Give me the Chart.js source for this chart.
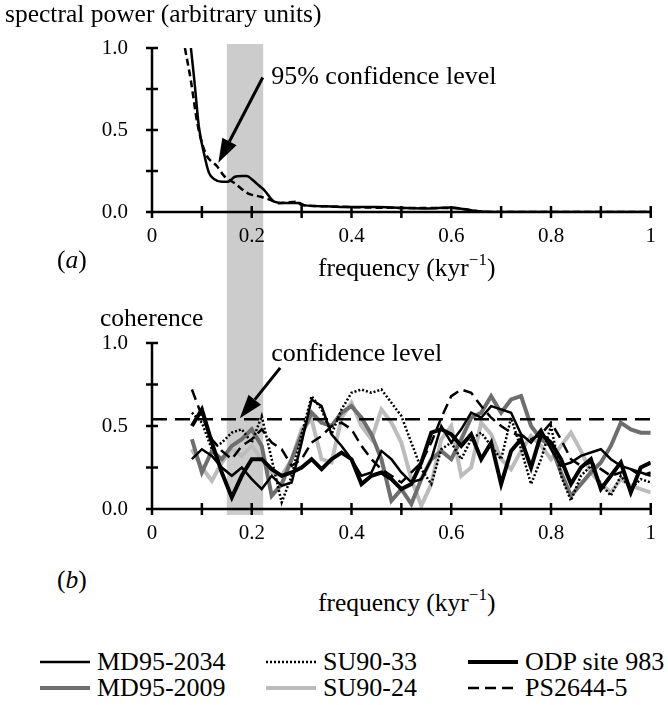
<!DOCTYPE html>
<html>
<head>
<meta charset="utf-8">
<script src="https://cdn.jsdelivr.net/npm/chart.js@4.4.1/dist/chart.umd.min.js"></script>
<style>
  body { margin: 0; background: #fff; }
  #wrap { position: relative; width: 668px; height: 705px; overflow: hidden;
          font-family: 'Liberation Serif', 'DejaVu Serif', serif; color: #000; }
  canvas { position: absolute; left: 0; }
  .lbl { position: absolute; font-size: 25.5px; line-height: 26px; white-space: nowrap; }
  .lbl sup { font-size: 17px; line-height: 0; position: relative; top: -2px; }
  .leg { position: absolute; height: 26px; display: flex; align-items: center;
         font-size: 26px; white-space: nowrap; }
  .leg svg { margin-right: 7px; }
</style>
</head>
<body>
<div id="wrap">
  <canvas id="powerChart" width="668" height="300" style="top:0"></canvas>
  <canvas id="cohChart" width="668" height="260" style="top:300px"></canvas>

  <div class="lbl" style="left:5px; top:1px">spectral power (arbitrary units)</div>
  <div class="lbl" style="left:57px; top:247px">(<i>a</i>)</div>
  <div class="lbl" style="left:318px; top:255px">frequency (kyr<sup>&minus;1</sup>)</div>
  <div class="lbl" style="left:100px; top:305px">coherence</div>
  <div class="lbl" style="left:57px; top:567px">(<i>b</i>)</div>
  <div class="lbl" style="left:318px; top:590px">frequency (kyr<sup>&minus;1</sup>)</div>
  <div id="legend"></div>
</div>
<script>
// ---- panel (a): spectral power ----
const powerSolidX = [0.078, 0.085, 0.094, 0.104, 0.114, 0.125, 0.14, 0.153, 0.166, 0.18, 0.19, 0.202, 0.215, 0.225, 0.245, 0.264, 0.295, 0.305, 0.35, 0.40, 0.45, 0.50, 0.55, 0.60, 0.63, 0.66, 0.70, 1.0];
const powerSolidY = [1.0, 0.80, 0.52, 0.36, 0.24, 0.20, 0.185, 0.185, 0.215, 0.22, 0.22, 0.195, 0.16, 0.134, 0.063, 0.055, 0.055, 0.042, 0.035, 0.03, 0.03, 0.025, 0.022, 0.028, 0.015, 0.003, 0, 0];
const powerDashX = [0.066, 0.078, 0.091, 0.107, 0.13, 0.146, 0.166, 0.192, 0.218, 0.238, 0.257, 0.275, 0.29, 0.30, 0.35, 0.40, 0.50, 0.60, 0.66, 0.70, 1.0];
const powerDashY = [1.0, 0.80, 0.54, 0.36, 0.28, 0.215, 0.175, 0.114, 0.093, 0.073, 0.053, 0.06, 0.063, 0.043, 0.035, 0.03, 0.025, 0.025, 0.003, 0, 0];

// ---- panel (b): coherence, common frequency grid ----
const freq = [0.08, 0.10, 0.12, 0.14, 0.16, 0.18, 0.20, 0.22, 0.24, 0.26, 0.28, 0.30, 0.32, 0.34, 0.36, 0.38, 0.40, 0.42, 0.44, 0.46, 0.48, 0.50, 0.52, 0.54, 0.56, 0.58, 0.60, 0.62, 0.64, 0.66, 0.68, 0.70, 0.72, 0.74, 0.76, 0.78, 0.80, 0.82, 0.84, 0.86, 0.88, 0.90, 0.92, 0.94, 0.96, 0.98, 1.00];
const md952034 = [0.30, 0.36, 0.32, 0.25, 0.20, 0.25, 0.18, 0.12, 0.20, 0.14, 0.16, 0.40, 0.66, 0.62, 0.45, 0.38, 0.30, 0.20, 0.22, 0.35, 0.30, 0.22, 0.16, 0.18, 0.30, 0.50, 0.40, 0.48, 0.58, 0.55, 0.62, 0.60, 0.58, 0.45, 0.40, 0.48, 0.36, 0.26, 0.28, 0.32, 0.34, 0.36, 0.30, 0.26, 0.24, 0.22, 0.20];
const su9033 = [0.58, 0.52, 0.36, 0.40, 0.46, 0.48, 0.40, 0.56, 0.30, 0.04, 0.20, 0.45, 0.68, 0.60, 0.45, 0.60, 0.70, 0.72, 0.70, 0.72, 0.64, 0.56, 0.40, 0.24, 0.15, 0.36, 0.40, 0.30, 0.42, 0.46, 0.38, 0.30, 0.55, 0.36, 0.15, 0.30, 0.50, 0.20, 0.05, 0.20, 0.26, 0.15, 0.08, 0.20, 0.12, 0.18, 0.16];
const odp983 = [0.50, 0.60, 0.40, 0.22, 0.07, 0.20, 0.30, 0.30, 0.24, 0.20, 0.22, 0.25, 0.30, 0.24, 0.30, 0.34, 0.30, 0.15, 0.20, 0.22, 0.18, 0.12, 0.15, 0.28, 0.46, 0.48, 0.45, 0.38, 0.45, 0.30, 0.40, 0.15, 0.35, 0.42, 0.25, 0.45, 0.40, 0.30, 0.15, 0.25, 0.30, 0.12, 0.20, 0.28, 0.10, 0.25, 0.28];
const md952009 = [0.42, 0.22, 0.35, 0.30, 0.38, 0.42, 0.48, 0.38, 0.08, 0.15, 0.30, 0.45, 0.58, 0.52, 0.50, 0.58, 0.62, 0.55, 0.45, 0.30, 0.05, 0.12, 0.03, 0.18, 0.30, 0.35, 0.30, 0.42, 0.55, 0.58, 0.68, 0.58, 0.66, 0.68, 0.50, 0.42, 0.38, 0.22, 0.08, 0.15, 0.22, 0.28, 0.38, 0.52, 0.48, 0.46, 0.46];
const su9024 = [0.36, 0.25, 0.17, 0.28, 0.36, 0.32, 0.38, 0.30, 0.22, 0.20, 0.30, 0.48, 0.54, 0.30, 0.28, 0.55, 0.64, 0.50, 0.42, 0.60, 0.52, 0.40, 0.18, 0.02, 0.15, 0.42, 0.50, 0.20, 0.25, 0.52, 0.45, 0.30, 0.24, 0.35, 0.44, 0.38, 0.30, 0.38, 0.46, 0.35, 0.22, 0.15, 0.10, 0.18, 0.14, 0.12, 0.10];
const ps26445 = [0.72, 0.56, 0.42, 0.35, 0.30, 0.38, 0.42, 0.48, 0.40, 0.36, 0.26, 0.30, 0.40, 0.44, 0.50, 0.52, 0.48, 0.38, 0.30, 0.24, 0.20, 0.16, 0.22, 0.28, 0.40, 0.55, 0.68, 0.72, 0.70, 0.62, 0.55, 0.50, 0.46, 0.44, 0.42, 0.45, 0.52, 0.42, 0.30, 0.26, 0.28, 0.24, 0.20, 0.22, 0.24, 0.20, 0.22];
const confidenceLevel = 0.54;

// shaded band and annotations
const bandRange = [0.15, 0.223];
const xTicks = { min: 0, max: 1, step: 0.1 };
const yTicks = { min: 0, max: 1, step: 0.25 };

const FONT = "'Liberation Serif', 'DejaVu Serif', serif";

const zip = (xs, ys) => xs.map((x, i) => ({ x, y: ys[i] }));

const cohSeries = [
    { label: 'MD95-2034', data: md952034, color: '#000', width: 2.5, dash: [], order: 1 },
    { label: 'SU90-33', data: su9033, color: '#000', width: 2.5, dash: [2, 2], order: 3 },
    { label: 'ODP site 983', data: odp983, color: '#000', width: 4, dash: [], order: 2 },
    { label: 'MD95-2009', data: md952009, color: '#6e6e6e', width: 4, dash: [], order: 5 },
    { label: 'SU90-24', data: su9024, color: '#bcbcbc', width: 4, dash: [], order: 6 },
    { label: 'PS2644-5', data: ps26445, color: '#000', width: 2.5, dash: [11, 6], order: 4 }
];

// gray band behind both panels
const bandPlugin = {
    id: 'band',
    beforeDraw(chart, args, opts) {
        const { ctx, scales: { x, y } } = chart;
        const x0 = x.getPixelForValue(bandRange[0]);
        const x1 = x.getPixelForValue(bandRange[1]);
        const top = opts.fromTop ? 0 : y.getPixelForValue(1) - 4;
        const bottom = opts.fromTop ? y.getPixelForValue(0) + 6 : chart.height;
        ctx.save();
        ctx.fillStyle = '#cccccc';
        ctx.fillRect(x0, top, x1 - x0, bottom - top);
        ctx.restore();
    }
};

// axis lines with ticks crossing both sides
const axesPlugin = {
    id: 'axes',
    afterDatasetsDraw(chart) {
        const { ctx, chartArea: a, scales: { x, y } } = chart;
        const y0 = y.getPixelForValue(0);
        ctx.save();
        ctx.strokeStyle = '#000';
        ctx.lineWidth = 2.5;
        ctx.beginPath();
        ctx.moveTo(a.left, y.getPixelForValue(1));
        ctx.lineTo(a.left, y0);
        ctx.moveTo(a.left, y0);
        ctx.lineTo(a.right, y0);
        x.ticks.forEach(t => {
            const px = x.getPixelForValue(t.value);
            ctx.moveTo(px, y0 - 6);
            ctx.lineTo(px, y0 + 6);
        });
        y.ticks.forEach(t => {
            const py = y.getPixelForValue(t.value);
            ctx.moveTo(a.left - 6, py);
            ctx.lineTo(a.left + 6, py);
        });
        ctx.stroke();
        ctx.restore();
    }
};

// arrow + text, given in data units
const notePlugin = {
    id: 'note',
    afterDatasetsDraw(chart, args, opts) {
        const { ctx, scales: { x, y } } = chart;
        const sx = x.getPixelForValue(opts.from[0]), sy = y.getPixelForValue(opts.from[1]);
        const tx = x.getPixelForValue(opts.to[0]), ty = y.getPixelForValue(opts.to[1]);
        const ang = Math.atan2(ty - sy, tx - sx);
        const hl = 24, hw = 8;
        const bx = tx - hl * Math.cos(ang), by = ty - hl * Math.sin(ang);
        ctx.save();
        ctx.strokeStyle = '#000';
        ctx.fillStyle = '#000';
        ctx.lineWidth = 3;
        ctx.beginPath();
        ctx.moveTo(sx, sy);
        ctx.lineTo(bx, by);
        ctx.stroke();
        ctx.beginPath();
        ctx.moveTo(tx, ty);
        ctx.lineTo(bx + hw * Math.sin(ang), by - hw * Math.cos(ang));
        ctx.lineTo(bx - hw * Math.sin(ang), by + hw * Math.cos(ang));
        ctx.closePath();
        ctx.fill();
        ctx.font = '26px ' + FONT;
        ctx.textBaseline = 'middle';
        ctx.textAlign = 'left';
        ctx.fillText(opts.text, x.getPixelForValue(opts.textAt[0]), y.getPixelForValue(opts.textAt[1]));
        ctx.restore();
    }
};

const xLabel = v => {
    const t = Math.round(v * 10);
    if (t % 2) return '';
    return t === 0 ? '0' : t === 10 ? '1' : (t / 10).toFixed(1);
};
const yLabel = v => (Math.round(v * 4) % 2 ? '' : v.toFixed(1));

const makeScales = (chartHeight, areaBottom) => ({
    x: {
        type: 'linear', min: xTicks.min, max: xTicks.max,
        afterFit: s => { s.height = chartHeight - areaBottom; },
        grid: { display: false, drawTicks: false },
        border: { display: false },
        ticks: { stepSize: xTicks.step, autoSkip: false, maxRotation: 0, padding: 12,
                 color: '#000', font: { family: FONT, size: 21 }, callback: xLabel }
    },
    y: {
        min: yTicks.min, max: yTicks.max,
        afterFit: s => { s.width = 152; },
        grid: { display: false, drawTicks: false },
        border: { display: false },
        ticks: { stepSize: yTicks.step, padding: 24,
                 color: '#000', font: { family: FONT, size: 21 }, callback: yLabel }
    }
});

const commonOptions = {
    responsive: false,
    animation: false,
    events: [],
    plugins: { legend: { display: false }, tooltip: { enabled: false } }
};

new Chart(document.getElementById('powerChart'), {
    type: 'line',
    data: {
        datasets: [
            { data: zip(powerSolidX, powerSolidY), borderColor: '#000', borderWidth: 2.5,
              pointRadius: 0, cubicInterpolationMode: 'monotone' },
            { data: zip(powerDashX, powerDashY), borderColor: '#000', borderWidth: 2.5,
              borderDash: [7, 4], pointRadius: 0, cubicInterpolationMode: 'monotone' }
        ]
    },
    options: {
        ...commonOptions,
        layout: { padding: { top: 48, right: 6, left: 0, bottom: 0 } },
        scales: makeScales(300, 212),
        plugins: {
            ...commonOptions.plugins,
            band: { fromTop: false },
            note: { from: [0.222, 0.82], to: [0.133, 0.30], text: '95% confidence level', textAt: [0.239, 0.82] }
        }
    },
    plugins: [bandPlugin, axesPlugin, notePlugin]
});

const cohDatasets = cohSeries.map(s => ({
    label: s.label,
    data: zip(freq, s.data),
    borderColor: s.color,
    borderWidth: s.width,
    borderDash: s.dash,
    pointRadius: 0,
    tension: 0,
    order: s.order
}));
cohDatasets.push({
    label: 'confidence level',
    data: zip([0, 1], [confidenceLevel, confidenceLevel]),
    borderColor: '#000', borderWidth: 2.5, borderDash: [15, 8],
    pointRadius: 0, order: 0
});

new Chart(document.getElementById('cohChart'), {
    type: 'line',
    data: { datasets: cohDatasets },
    options: {
        ...commonOptions,
        layout: { padding: { top: 43, right: 6, left: 0, bottom: 0 } },
        scales: makeScales(260, 209),
        plugins: {
            ...commonOptions.plugins,
            band: { fromTop: true },
            note: { from: [0.257, 0.85], to: [0.176, 0.546], text: 'confidence level', textAt: [0.239, 0.93] }
        }
    },
    plugins: [bandPlugin, axesPlugin, notePlugin]
});

// legend (HTML), two rows of three
const legendPos = [
    { x: 40, y: 649 }, { x: 266, y: 649 }, { x: 468, y: 649 },
    { x: 40, y: 675 }, { x: 266, y: 675 }, { x: 468, y: 675 }
];
const legendOrder = ['MD95-2034', 'SU90-33', 'ODP site 983', 'MD95-2009', 'SU90-24', 'PS2644-5'];
const legend = document.getElementById('legend');
legendOrder.forEach((name, i) => {
    const s = cohSeries.find(c => c.label === name);
    const p = legendPos[i];
    const el = document.createElement('div');
    el.className = 'leg';
    el.style.left = p.x + 'px';
    el.style.top = p.y + 'px';
    const dash = s.dash.length ? s.dash.join(' ') : 'none';
    el.innerHTML = `<svg width="50" height="10"><line x1="0" y1="5" x2="50" y2="5" stroke="${s.color}" stroke-width="${s.width}" stroke-dasharray="${dash}"/></svg><span>${name}</span>`;
    legend.appendChild(el);
});
</script>
</body>
</html>
